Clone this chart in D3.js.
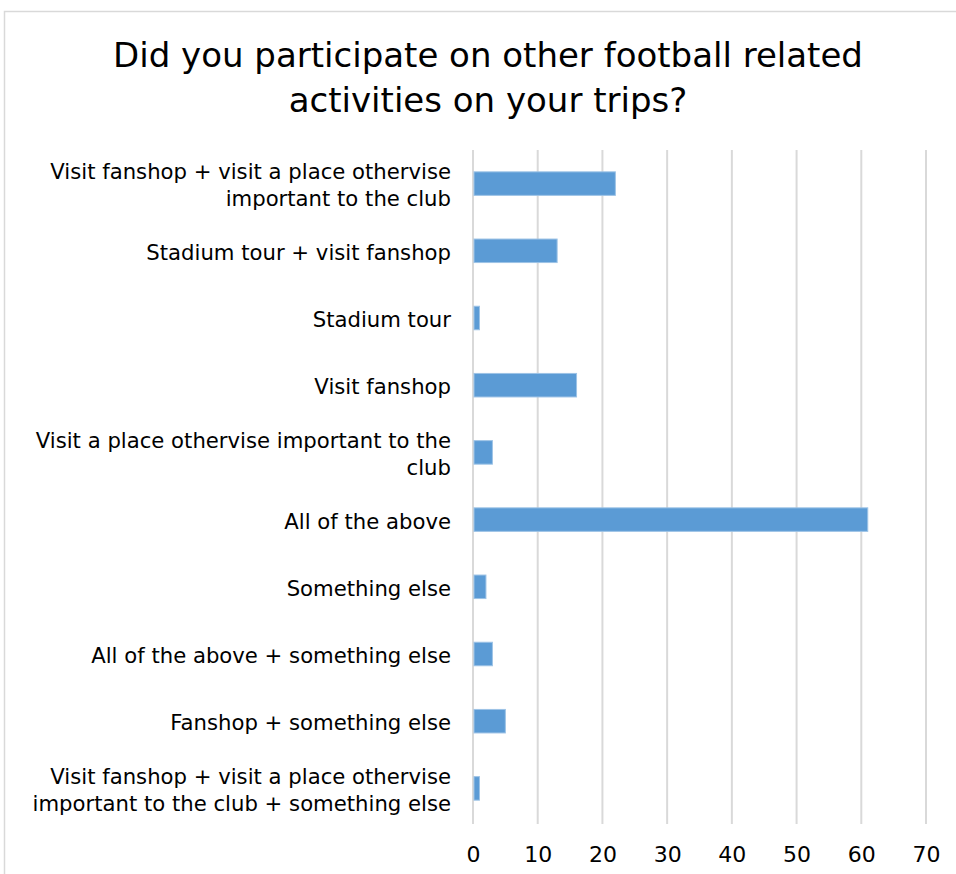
<!DOCTYPE html>
<html>
<head>
<meta charset="utf-8">
<script src="https://cdn.jsdelivr.net/npm/d3@7"></script>
<style>
  body { margin: 0; background: #fff; }
  text { font-family: "DejaVu Sans", sans-serif; fill: #000; }
</style>
</head>
<body>
<div id="chart"></div>
<script>
const width = 956, height = 874;

const title_lines = ['Did you participate on other football related', 'activities on your trips?'];

const categories = [
  'Visit fanshop + visit a place othervise|important to the club',
  'Stadium tour + visit fanshop',
  'Stadium tour',
  'Visit fanshop',
  'Visit a place othervise important to the|club',
  'All of the above',
  'Something else',
  'All of the above + something else',
  'Fanshop + something else',
  'Visit fanshop + visit a place othervise|important to the club + something else'
];
const values = [22, 13, 1, 16, 3, 61, 2, 3, 5, 1];
const x_ticks = [0, 10, 20, 30, 40, 50, 60, 70];

const margin = {top: 150, right: 30, bottom: 52, left: 473};

const styles = {
  frame: {fill: 'none', stroke: '#d9d9d9', strokeWidth: 1.5},
  grid: {stroke: '#d9d9d9', strokeWidth: 2},
  bar: {fill: '#5b9bd5', stroke: '#9dc3e6', strokeWidth: 1},
  title: {fontSize: 34, textAnchor: 'middle'},
  label: {fontSize: 21.2, textAnchor: 'end'},
  tick: {fontSize: 22, textAnchor: 'middle'}
};

const svg = d3.select('#chart').append('svg')
  .attr('width', width).attr('height', height);

svg.append('rect')
  .attr('x', 4.5).attr('y', 11.5)
  .attr('width', 960).attr('height', 900)
  .style('fill', styles.frame.fill)
  .style('stroke', styles.frame.stroke)
  .style('stroke-width', styles.frame.strokeWidth);

// title
svg.append('text')
  .attr('x', 488).attr('y', 67)
  .style('font-size', styles.title.fontSize + 'px')
  .style('text-anchor', styles.title.textAnchor)
  .selectAll('tspan')
  .data(title_lines)
  .join('tspan')
  .attr('x', 488)
  .attr('dy', (d, i) => i ? 45 : 0)
  .text(d => d);

const x = d3.scaleLinear()
  .domain([0, 70])
  .range([margin.left, 926]);

const y = d3.scaleBand()
  .domain(categories)
  .range([margin.top, height - margin.bottom])
  .paddingInner(0.65)
  .paddingOuter(0.325);

// gridlines
svg.append('g')
  .selectAll('line')
  .data(x_ticks)
  .join('line')
  .attr('x1', d => x(d)).attr('x2', d => x(d))
  .attr('y1', margin.top).attr('y2', height - margin.bottom + 2)
  .style('stroke', styles.grid.stroke)
  .style('stroke-width', styles.grid.strokeWidth);

// bars
svg.append('g')
  .selectAll('rect')
  .data(values)
  .join('rect')
  .attr('x', x(0) + 1)
  .attr('y', (d, i) => y(categories[i]))
  .attr('width', d => x(d) - x(0) - 1)
  .attr('height', y.bandwidth())
  .style('fill', styles.bar.fill)
  .style('stroke', styles.bar.stroke)
  .style('stroke-width', styles.bar.strokeWidth);

// x axis labels
const x_axis = svg.append('g')
  .attr('transform', `translate(0,${height - margin.bottom})`)
  .call(d3.axisBottom(x).tickValues(x_ticks).tickSize(0).tickPadding(24));
x_axis.select('.domain').remove();
x_axis.selectAll('text')
  .style('font-size', styles.tick.fontSize + 'px')
  .style('font-family', '"DejaVu Sans", sans-serif')
  .attr('fill', '#000');

// category labels
svg.append('g')
  .selectAll('text')
  .data(categories)
  .join('text')
  .attr('x', 451)
  .attr('y', d => y(d) + y.bandwidth() / 2)
  .style('font-size', styles.label.fontSize + 'px')
  .style('text-anchor', styles.label.textAnchor)
  .each(function(d) {
    const lines = d.split('|');
    const line_height = 27;
    d3.select(this).selectAll('tspan')
      .data(lines)
      .join('tspan')
      .attr('x', 451)
      .attr('dy', (l, i) => i ? line_height : 9 - (lines.length - 1) * line_height / 2)
      .text(l => l);
  });
</script>
</body>
</html>
